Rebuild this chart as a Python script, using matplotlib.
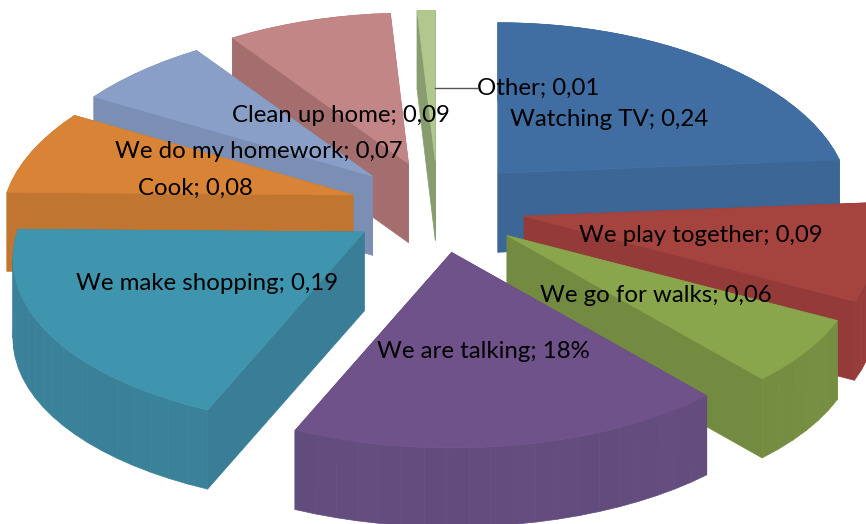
import numpy as np
import matplotlib
matplotlib.use('Agg')
import matplotlib.pyplot as plt
from matplotlib.colors import to_rgb
from matplotlib.patches import Polygon

labels = ['Watching TV; 0,24', 'We play together; 0,09', 'We go for walks; 0,06',
          'We are talking; 18%', 'We make shopping; 0,19', 'Cook; 0,08',
          'We do my homework; 0,07', 'Clean up home; 0,09', 'Other; 0,01']
values = [0.24, 0.09, 0.06, 0.18, 0.19, 0.08, 0.07, 0.09, 0.01]
top_colors = ['#406ea2', '#a5433f', '#89a64c', '#6e5289', '#4095ae', '#d88336',
              '#8a9fc8', '#c38686', '#b0c88e']
side_colors = ['#3d6899', '#973c3a', '#758e42', '#634c7e', '#3a8199', '#c47832',
               '#7e92b8', '#a87070', '#8aa070']
label_pos = [(510, 120), (579, 236), (540, 295), (377, 351), (76, 283),
             (138, 188), (115, 151), (232, 115), (477, 88)]

CX, CY = 438, 207
RX, RY = 347, 173
EXPLODE_X, EXPLODE_Y = 88, 46
DEPTH = 79
PERSP_X, PERSP_Y = 0.16, 0.13


def rim(apex, a):
    # point on the slice's outer edge, the front of the pie is drawn a bit bigger
    v = -np.cos(a)
    return (apex[0] + RX * (1 + PERSP_X * v) * np.sin(a),
            apex[1] + RY * (1 + PERSP_Y * v) * v)


def shade(col, f):
    return tuple(min(1, c * f) for c in to_rgb(col))


fig = plt.figure(figsize=(8.66, 5.24), dpi=100)
ax = fig.add_axes([0, 0, 1, 1])
ax.set_xlim(0, 866)
ax.set_ylim(524, 0)
ax.axis('off')

fracs = np.array(values) / sum(values)
ends = np.cumsum(fracs) * 2 * np.pi
starts = ends - fracs * 2 * np.pi

slices = []
for i in range(len(values)):
    mid = (starts[i] + ends[i]) / 2
    apex = (CX + EXPLODE_X * np.sin(mid), CY - EXPLODE_Y * np.cos(mid))
    slices.append((apex[1] + RY * 0.5 * -np.cos(mid), i, apex))

# back slices first
for _, i, apex in sorted(slices):
    angs = np.linspace(starts[i], ends[i], max(4, int(fracs[i] * 120)))
    pts = [rim(apex, a) for a in angs]
    faces = []
    for k in range(len(pts) - 1):
        p, q = pts[k], pts[k + 1]
        f = 1.0 + 0.008 * np.sin(k * 0.9)
        faces.append(([p, q, (q[0], q[1] + DEPTH), (p[0], p[1] + DEPTH)], f))
    for p in (pts[0], pts[-1]):
        faces.append(([apex, p, (p[0], p[1] + DEPTH), (apex[0], apex[1] + DEPTH)], 0.98))
    faces.sort(key=lambda t: np.mean([c[1] for c in t[0]]))
    for quad, f in faces:
        col = shade(side_colors[i], f)
        ax.add_patch(Polygon(quad, closed=True, fc=col, ec=col, lw=0.5))
    ax.add_patch(Polygon([apex] + pts, closed=True, fc=top_colors[i], ec=top_colors[i], lw=0.5))

for lab, (x, y) in zip(labels, label_pos):
    ax.text(x, y, lab, family='Lato', fontsize=17.3, color='black', va='center', ha='left')

# leader line for the small slice
ax.plot([435, 477], [88, 88], color='#555555', lw=1.0)

fig.savefig('out.png', dpi=100)
